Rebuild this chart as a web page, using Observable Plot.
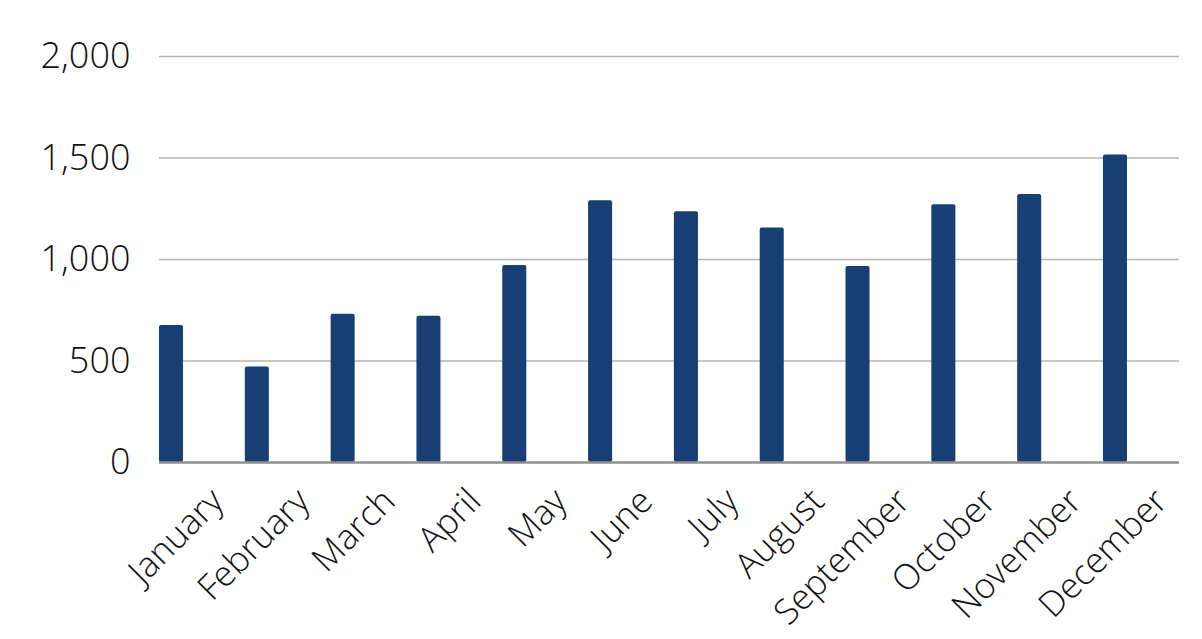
<!DOCTYPE html>
<html>
<head>
<meta charset="utf-8">
<script src="https://cdn.jsdelivr.net/npm/d3@7"></script>
<script src="https://cdn.jsdelivr.net/npm/@observablehq/plot@0.6"></script>
<style>
  html, body { margin: 0; padding: 0; background: #fff; }
  #chart svg { display: block; }
</style>
</head>
<body>
<div id="chart"></div>
<script>
const months = ["January","February","March","April","May","June","July","August","September","October","November","December"];
const values = [675, 470, 730, 720, 970, 1290, 1235, 1155, 965, 1270, 1320, 1515];
const yTicks = [0, 500, 1000, 1500, 2000];
const gridTicks = [500, 1000, 1500, 2000];

const data = months.map((m, i) => ({month: m, value: values[i]}));
const fmt = d3.format(",d");

const chart = Plot.plot({
  width: 1202,
  height: 639,
  marginLeft: 159,
  marginRight: 23,
  marginTop: 56,
  marginBottom: 177,
  style: {fontFamily: "'Open Sans', sans-serif", fontWeight: 300, color: "#111", background: "#fff"},
  x: {domain: months, range: [159, 1127], paddingInner: 0.72, paddingOuter: 0, align: 0, round: false},
  y: {domain: [0, 2000]},
  marks: [
    Plot.ruleY(gridTicks, {stroke: "#b4b4b4", strokeWidth: 1.3}),
    Plot.barY(data, {x: "month", y: "value", fill: "#173f74", rx: 2}),
    Plot.ruleY([0], {stroke: "#8f8f8f", strokeWidth: 2.5}),
    Plot.axisY({ticks: yTicks, tickFormat: fmt, tickSize: 0, tickPadding: 29, fontSize: 36, label: null}),
    Plot.axisX({tickSize: 0, tickRotate: -45, fontSize: 35, label: null, dx: 46, dy: 21})
  ]
});
document.getElementById("chart").appendChild(chart);
</script>
</body>
</html>
